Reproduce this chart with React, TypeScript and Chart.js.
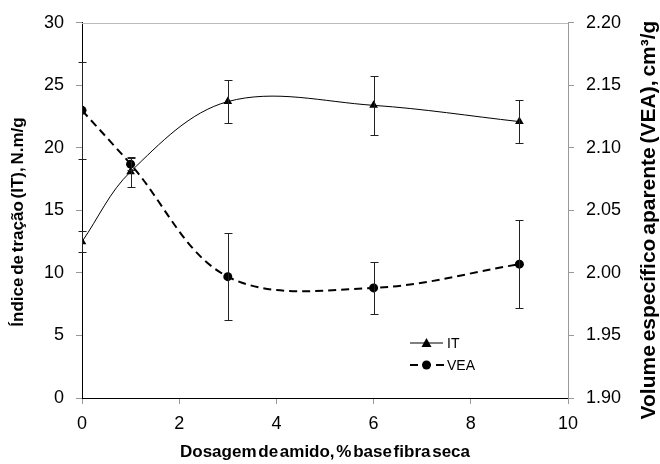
import React, { useEffect, useRef } from "react";
import { Chart, registerables } from "chart.js";

Chart.register(...registerables);

const doses = [0, 1, 3, 6, 9];
const itValues = [12.5, 18.1, 23.7, 23.4, 22.1];
const itErrors = [0.85, 1.2, 1.7, 2.35, 1.75];
const veaValues = [2.13, 2.087, 1.997, 1.988, 2.007];
const veaErrors = [0.039, 0.005, 0.035, 0.021, 0.035];

const xLabel = "Dosagem de amido, % base fibra seca";
const yLabel = "Índice de tração (IT), N.m/g";
const y2Label = "Volume específico aparente (VEA), cm³/g";
const seriesNames = ["IT", "VEA"];

const FONT = "'Liberation Sans', Arial, sans-serif";
const DASH = [8, 5];

const errorBars = {
  id: "errorBars",
  afterDatasetsDraw(chart: any) {
    const ctx = chart.ctx;
    const errs = [itErrors, veaErrors];
    chart.data.datasets.forEach((ds: any, di: number) => {
      const ys = chart.scales[ds.yAxisID];
      const xs = chart.scales.x;
      ds.data.forEach((p: any, i: number) => {
        const e = errs[di][i];
        const px = Math.round(xs.getPixelForValue(p.x)) + 0.5;
        const top = Math.round(ys.getPixelForValue(p.y + e)) + 0.5;
        const bot = Math.round(ys.getPixelForValue(p.y - e)) + 0.5;
        ctx.save();
        ctx.strokeStyle = "#222";
        ctx.lineWidth = 1;
        ctx.beginPath();
        ctx.moveTo(px, top);
        ctx.lineTo(px, bot);
        ctx.moveTo(px - 4, top);
        ctx.lineTo(px + 4, top);
        ctx.moveTo(px - 4, bot);
        ctx.lineTo(px + 4, bot);
        ctx.stroke();
        ctx.restore();
      });
    });
  },
};

function drawText(ctx: any, text: string, x: number, y: number, rot: number, size: number, ws: string) {
  ctx.save();
  ctx.fillStyle = "#000";
  ctx.font = "bold " + size + "px " + FONT;
  ctx.textAlign = "center";
  ctx.textBaseline = "middle";
  try { ctx.wordSpacing = ws; } catch (e) {}
  ctx.translate(x, y);
  ctx.rotate(rot);
  ctx.fillText(text, 0, 0);
  ctx.restore();
}

const extras = {
  id: "extras",
  afterDraw(chart: any) {
    const ctx = chart.ctx;
    const a = chart.chartArea;
    ctx.save();
    ctx.strokeStyle = "#bbb";
    ctx.lineWidth = 1;
    ctx.beginPath();
    ctx.moveTo(a.left, Math.round(a.top) + 0.5);
    ctx.lineTo(a.right, Math.round(a.top) + 0.5);
    ctx.stroke();
    ctx.restore();

    // axis titles
    drawText(ctx, xLabel, (a.left + a.right) / 2, 452, 0, 17, "-3px");
    drawText(ctx, yLabel, 18, 222, -Math.PI / 2, 17, "-2px");
    drawText(ctx, y2Label, 649, 220, -Math.PI / 2, 21, "-2px");

    // legend
    ctx.save();
    const lx = a.left + 328;
    const rows = [a.bottom - 55, a.bottom - 33];
    ctx.strokeStyle = "#000";
    ctx.fillStyle = "#000";
    ctx.lineWidth = 1;
    ctx.beginPath();
    ctx.moveTo(lx, rows[0]);
    ctx.lineTo(lx + 33, rows[0]);
    ctx.stroke();
    ctx.beginPath();
    const tx = lx + 16.5;
    ctx.moveTo(tx, rows[0] - 5);
    ctx.lineTo(tx + 5, rows[0] + 4);
    ctx.lineTo(tx - 5, rows[0] + 4);
    ctx.closePath();
    ctx.fill();
    ctx.lineWidth = 2;
    ctx.setLineDash(DASH);
    ctx.beginPath();
    ctx.moveTo(lx, rows[1]);
    ctx.lineTo(lx + 34, rows[1]);
    ctx.stroke();
    ctx.setLineDash([]);
    ctx.beginPath();
    ctx.arc(tx, rows[1], 4.5, 0, Math.PI * 2);
    ctx.fill();
    ctx.font = "14px " + FONT;
    ctx.textAlign = "left";
    ctx.textBaseline = "middle";
    ctx.fillText(seriesNames[0], lx + 37, rows[0] + 1);
    ctx.fillText(seriesNames[1], lx + 37, rows[1] + 1);
    ctx.restore();
  },
};

const tickFont = { size: 18, family: FONT };
const gridCfg = { drawOnChartArea: false, tickLength: 6, color: "#999", tickColor: "#999" };

export default function App() {
  const ref = useRef<HTMLCanvasElement>(null);
  useEffect(() => {
    if (!ref.current) return;
    const chart = new Chart(ref.current, {
      type: "line",
      data: {
        datasets: [
          {
            label: seriesNames[0],
            data: doses.map((x, i) => ({ x, y: itValues[i] })),
            yAxisID: "y",
            borderColor: "#000",
            backgroundColor: "#000",
            borderWidth: 1,
            tension: 0.35,
            pointStyle: "triangle",
            pointRadius: 5,
            pointBorderWidth: 0,
          },
          {
            label: seriesNames[1],
            data: doses.map((x, i) => ({ x, y: veaValues[i] })),
            yAxisID: "y2",
            borderColor: "#000",
            backgroundColor: "#000",
            borderWidth: 2,
            borderDash: DASH,
            tension: 0.35,
            pointStyle: "circle",
            pointRadius: 4.5,
            pointBorderWidth: 0,
          },
        ],
      },
      options: {
        animation: false,
        responsive: false,
        maintainAspectRatio: false,
        layout: { padding: { top: 22, left: 0, right: 0, bottom: 0 } },
        plugins: { legend: { display: false }, tooltip: { enabled: false } },
        scales: {
          x: {
            type: "linear",
            min: 0,
            max: 10,
            ticks: { stepSize: 2, color: "#000", font: tickFont, padding: 9 },
            grid: gridCfg,
            border: { color: "#000", width: 1 },
            afterFit(s: any) { s.height = 66; },
          },
          y: {
            type: "linear",
            position: "left",
            min: 0,
            max: 30,
            ticks: { stepSize: 5, color: "#000", font: tickFont, padding: 12 },
            grid: gridCfg,
            border: { color: "#000", width: 1 },
            afterFit(s: any) { s.width = 82; },
          },
          y2: {
            type: "linear",
            position: "right",
            min: 1.9,
            max: 2.2,
            ticks: { stepSize: 0.05, color: "#000", font: tickFont, padding: 12, callback: (v: any) => Number(v).toFixed(2) },
            grid: gridCfg,
            border: { color: "#999", width: 1 },
            afterFit(s: any) { s.width = 92; },
          },
        },
      },
      plugins: [errorBars, extras],
    });
    return () => chart.destroy();
  }, []);
  return (
    <div style={{ position: "fixed", left: 0, top: 0, width: 660, height: 464, background: "#fff" }}>
      <canvas ref={ref} width={660} height={464} style={{ width: 660, height: 464 }} />
    </div>
  );
}
